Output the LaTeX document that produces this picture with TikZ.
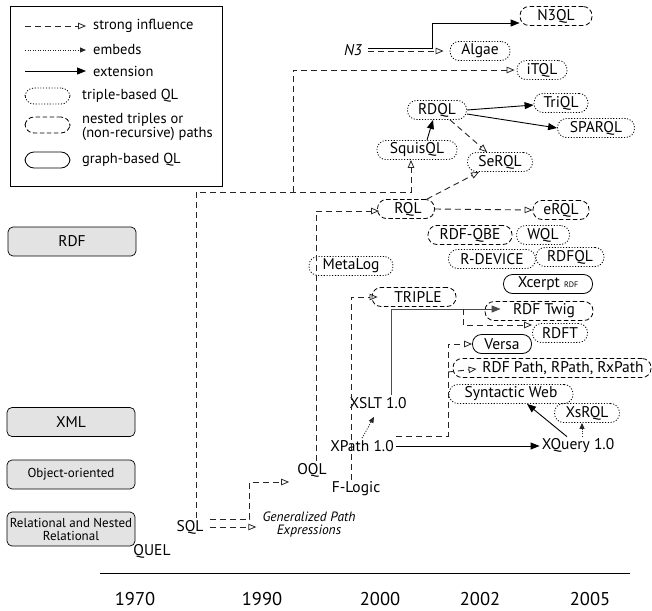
\documentclass[tikz,border=0pt]{standalone}
\usepackage{fontspec}
\setmainfont{PT Sans}
\usetikzlibrary{arrows.meta}

\tikzset{
  qlbox/.style={rectangle, rounded corners=9pt, minimum height=19pt, inner sep=0pt, line width=0.8pt},
  triple/.style={qlbox, draw, dash pattern=on 1.1pt off 1.7pt},
  nested/.style={qlbox, draw, dash pattern=on 4.5pt off 2.5pt},
  graphql/.style={qlbox, draw},
  lang/.style={inner sep=2pt},
  era/.style={draw, fill=gray!22, rounded corners=5pt, minimum width=128pt, minimum height=29pt, line width=0.7pt},
  influence/.style={draw=black!85, line width=0.9pt, dash pattern=on 6pt off 4pt,
    -{Triangle[open, length=8pt, width=6.5pt, line width=0.8pt]}},
  embeds/.style={draw=black!85, line width=0.9pt, dash pattern=on 1pt off 1.5pt, -{Triangle[length=6pt, width=5pt]}},
  extension/.style={draw=black, line width=0.9pt, -{Triangle[length=9pt, width=7pt]}},
  legendtext/.style={lang, anchor=west, font=\fontsize{14.5}{13.5}\selectfont},
}

\begin{document}
\begin{tikzpicture}[x=1pt, y=-1pt, font=\fontsize{15.5}{16}\selectfont]
  \useasboundingbox (0,0) rectangle (652,610);

  % Legend
  \draw[line width=0.8pt] (10,6) rectangle (222,186);
  \node[legendtext] (lginf) at (91,26) {strong influence};
  \node[legendtext] (lgemb) at (91,50) {embeds};
  \node[legendtext] (lgext) at (91,71) {extension};
  \draw[influence] ([xshift=-66]lginf.west) -- ([xshift=-5]lginf.west);
  \draw[embeds] ([xshift=-66]lgemb.west) -- ([xshift=-5]lgemb.west);
  \draw[extension] ([xshift=-66]lgext.west) -- ([xshift=-5]lgext.west);
  \node[triple, minimum width=45, minimum height=16] (lgtriple) at (47.5,96) {};
  \node[legendtext] (lgtripletxt) at (80,96) {triple-based QL};
  \node[nested, minimum width=45, minimum height=16] (lgnested) at (47.5,125) {};
  \node[legendtext, align=left] (lgnestedtxt) at (80,127) {nested triples or\\(non-recursive) paths};
  \node[graphql, minimum width=45, minimum height=16] (lggraph) at (47.5,160) {};
  \node[legendtext] (lggraphtxt) at (80,160) {graph-based QL};

  % Eras
  \node[era, font=\fontsize{15.5}{16}\selectfont] (rdf) at (72,241.5) {RDF};
  \node[era, font=\fontsize{15.5}{16}\selectfont] (xml) at (71,422) {XML};
  \node[era, font=\fontsize{13}{14}\selectfont] (oo) at (71,474.5) {Object-oriented};
  \node[era, minimum height=34pt, align=center, inner sep=0pt, font=\fontsize{13}{13}\selectfont] (rel) at (71,529) {Relational and Nested\\Relational};

  % Query languages
  \node[nested, minimum width=72] (n3ql) at (556,16) {N3QL};
  \node[lang, font=\fontsize{15.5}{16}\selectfont\itshape] (n3) at (353,50) {N3};
  \node[triple, minimum width=60] (algae) at (480,51) {Algae};
  \node[triple, minimum width=50] (itql) at (542,70) {iTQL};
  \node[triple, minimum width=59] (rdql) at (437,110) {RDQL};
  \node[triple, minimum width=54] (triql) at (561,103) {TriQL};
  \node[triple, minimum width=77] (sparql) at (596,128) {SPARQL};
  \node[triple, minimum width=80] (squisql) at (417,150) {SquisQL};
  \node[triple, minimum width=65] (serql) at (500,162) {SeRQL};
  \node[nested, minimum width=57] (rql) at (406,209) {\hspace{4pt}RQL};
  \node[nested, minimum width=56] (erql) at (561,210) {eRQL};
  \node[nested, minimum width=84] (rdfqbe) at (470,235) {RDF-QBE};
  \node[triple, minimum width=53] (wql) at (543,235) {WQL};
  \node[triple, minimum width=87] (rdevice) at (492,259) {R-DEVICE};
  \node[triple, minimum width=68] (rdfql) at (570,257) {RDFQL};
  \node[graphql, minimum width=89] (xcerpt) at (548,284) {Xcerpt {\fontsize{8}{8}\selectfont RDF}};
  \node[triple, minimum width=84] (metalog) at (351,266) {MetaLog};
  \node[nested, minimum width=84] (triple) at (414,297) {\hspace{8pt}TRIPLE};
  \node[nested, minimum width=108] (twig) at (539,311) {\hspace{10pt}RDF Twig};
  \node[triple, minimum width=55] (rdft) at (560,333) {RDFT};
  \node[graphql, minimum width=59] (versa) at (502,344) {Versa};
  \node[nested, minimum width=198] (rdfpath) at (552,368) {\hspace{22pt}RDF Path, RPath, RxPath};
  \node[triple, minimum width=124] (synweb) at (511,394) {Syntactic Web};
  \node[triple, minimum width=65] (xsrql) at (587,413) {XsRQL};
  \node[lang] (xslt) at (378,403) {XSLT 1.0};
  \node[lang] (xpath) at (362,446) {XPath 1.0};
  \node[lang] (xquery) at (578,446) {XQuery 1.0};
  \node[lang] (oql) at (312,470) {OQL};
  \node[lang] (flogic) at (356,489) {F-Logic};
  \node[lang] (sql) at (190,527) {SQL};
  \node[lang, align=center, font=\fontsize{13.5}{13}\selectfont\itshape] (gpe) at (309,525) {Generalized Path\\Expressions};
  \node[lang] (quel) at (152,551) {QUEL};

  % N3 branch
  \draw[extension] ([xshift=4,yshift=2]n3.east) -- ++(64,0) |- ([yshift=-7]n3ql.west);
  \draw[influence] ([xshift=4,yshift=-1]n3.east) -- ([xshift=-6]algae.west);

  % SQL trunk
  \coordinate (trunk) at (196,192);
  \coordinate (fork) at (293,192);
  \draw[influence] ([xshift=6]sql.north) -- (trunk) -| ([xshift=-6]squisql.south);
  \draw[influence] (fork) |- ([xshift=-2]itql.west);
  \draw[influence] ([xshift=4,yshift=8]sql.east) -- ++(40,0) |- ([xshift=-6,yshift=-12]oql.west);
  \draw[influence] ([xshift=4]sql.east) -- ([xshift=-4]gpe.west |- sql.east);

  % RDQL / RQL family
  \draw[extension] ([xshift=10]squisql.north) -- ([xshift=-4]rdql.south);
  \draw[extension] (rdql.east) -- ([yshift=-2]triql.west);
  \draw[extension] ([yshift=-4]rdql.east) -- (sparql.west);
  \draw[influence] ([xshift=13]rdql.south) -- ([xshift=-13]serql.north);
  \draw[influence] ([xshift=4]oql.north) |- ([xshift=2,yshift=-2]rql.west);
  \draw[influence] ([xshift=-8]rql.north east) -- ([xshift=12]serql.south west);
  \draw[influence] (rql.east) -- (erql.west);

  % TRIPLE and XML based
  \draw[influence] ([xshift=-5]flogic.north) |- ([xshift=6]triple.west);
  \draw[extension, draw=black!70] ([xshift=13]xslt.north) |- ([xshift=16,yshift=2]twig.west);
  \coordinate (twigfork) at (463,309);
  \draw[influence] (twigfork) |- ([yshift=8]rdft.west);
  \coordinate (xpfork) at (448,436);
  \draw[influence] (xpath.north east |- xpfork) -- (xpfork) |- (versa.west);
  \draw[influence] ([yshift=-4]xpfork |- rdfpath.west) -- ([xshift=24,yshift=-1]rdfpath.west);
  \draw[embeds] (xpath.north) -- ([xshift=-4,yshift=-6]xslt.south);
  \draw[extension] (xpath.east) -- (xquery.west);
  \draw[extension] ([xshift=-11]xquery.north) -- ([xshift=16]synweb.south);
  \draw[embeds] ([xshift=4]xquery.north) -- ([xshift=-5]xsrql.south);

  % Timeline
  \draw[line width=1pt] (100,573) -- (630,573);
  \foreach \yr/\xx in {1970/135, 1990/262, 2000/380, 2002/480, 2005/590}
    \node[lang, font=\fontsize{18.5}{20}\selectfont] (y\yr) at (\xx,599) {\yr};
\end{tikzpicture}
\end{document}
